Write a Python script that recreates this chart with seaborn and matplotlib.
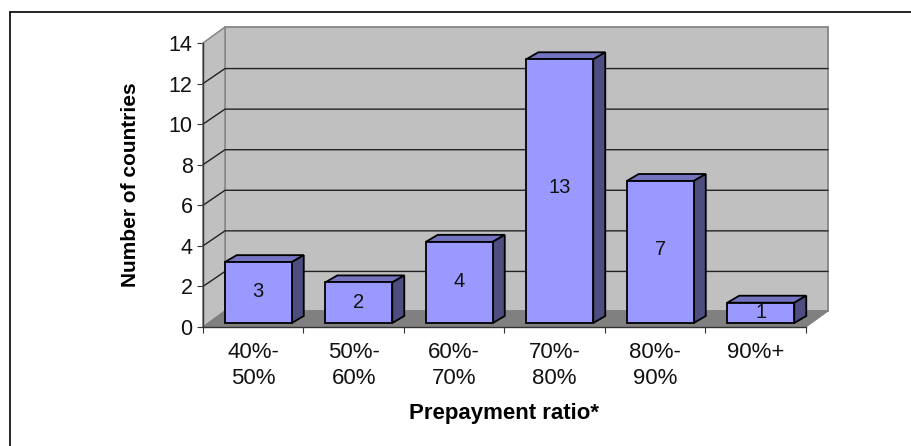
import matplotlib as mpl
import matplotlib.pyplot as plt
import pandas as pd
import seaborn as sns
from matplotlib.lines import Line2D
from matplotlib.patches import Polygon
mpl.use('Agg')

categories = ['40%-\n50%', '50%-\n60%', '60%-\n70%', '70%-\n80%', '80%-\n90%', '90%+']
countries = [3, 2, 4, 13, 7, 1]
y_ticks = [0, 2, 4, 6, 8, 10, 12, 14]

W, H = 912, 446
# front plane of the fake 3d box, in pixels
LEFT, RIGHT, TOP, BOTTOM = 203, 806, 43, 327

sns.set_theme(style='white')
plt.rcParams['font.family'] = ['Liberation Sans', 'DejaVu Sans']

fig = plt.figure(figsize=(W / 100, H / 100), dpi=100)
ax = fig.add_axes([LEFT / W, 1 - BOTTOM / H, (RIGHT - LEFT) / W, (BOTTOM - TOP) / H])
df = pd.DataFrame({'ratio': categories, 'n': countries})
sns.barplot(data=df, x='ratio', y='n', color='#9999FF', saturation=1, width=0.667,
            edgecolor='black', linewidth=1.3, ax=ax, zorder=5)
ax.set_xlim(-0.5, len(categories) - 0.5)
ax.set_ylim(0, 14)
ax.set_xlabel('')
ax.set_ylabel('')
ax.patch.set_alpha(0)

px = (RIGHT - LEFT) / len(categories)
py = (BOTTOM - TOP) / 14
wall_x, wall_y = 22 / px, 16 / py     # depth of the box
bar_x, bar_y = 12 / px, 7 / py        # depth of one bar
x0, x1 = ax.get_xlim()
bars = list(ax.patches)


def box(points, **kw):
    p = Polygon(points, closed=True, clip_on=False, **kw)
    ax.add_patch(p)


# walls and floor
box([(x0 + wall_x, wall_y), (x1 + wall_x, wall_y), (x1 + wall_x, 14 + wall_y), (x0 + wall_x, 14 + wall_y)],
    facecolor='#C0C0C0', edgecolor='#868686', linewidth=1.3, zorder=1)
box([(x0, 0), (x0 + wall_x, wall_y), (x0 + wall_x, 14 + wall_y), (x0, 14)],
    facecolor='#C0C0C0', edgecolor='#868686', linewidth=1.1, zorder=1)
box([(x0, 0), (x1, 0), (x1 + wall_x, wall_y), (x0 + wall_x, wall_y)],
    facecolor='#808080', edgecolor='#808080', linewidth=0.8, zorder=1.5)

# gridlines run along the side wall and the back wall
grid_y = 15 / py
for t in y_ticks[1:-1]:
    ax.plot([x0, x0 + wall_x, x1 + wall_x], [t, t + grid_y, t + grid_y], color='#222222',
            linewidth=1.0, clip_on=False, zorder=2)

# bars: move them back into the box and add top and side faces
for bar in bars:
    bar.set_x(bar.get_x() + 5 / px)
    bar.set_y(4 / py)
    bar.set_clip_on(False)
    l, r = bar.get_x(), bar.get_x() + bar.get_width()
    b, t = bar.get_y(), bar.get_y() + bar.get_height()
    box([(l, t), (r, t), (r + bar_x, t + bar_y), (l + bar_x, t + bar_y)],
        facecolor='#7373BF', edgecolor='black', linewidth=1.3, zorder=4)
    box([(r, b), (r + bar_x, b + bar_y), (r + bar_x, t + bar_y), (r, t)],
        facecolor='#4D4D80', edgecolor='black', linewidth=1.3, zorder=4)
    ax.text((l + r) / 2, b + (t - b) * 0.515, str(int(bar.get_height())), ha='center', va='center',
            fontsize=14.5, color='#111111', zorder=6)

sns.despine(ax=ax, top=True, right=True)
for side in ['left', 'bottom']:
    ax.spines[side].set_color('#333333')
    ax.spines[side].set_linewidth(1.0)
    ax.spines[side].set_zorder(3)

ax.set_yticks(y_ticks)
ax.set_xticks([i - 0.5 for i in range(len(categories) + 1)])
ax.set_xticklabels([])
ax.tick_params(axis='x', bottom=True, length=4.5, width=0.8, color='#333333')
ax.tick_params(axis='y', left=True, length=4.5, width=0.8, color='#333333', labelsize=15.5, pad=3, labelcolor='#111111')
for i, label in enumerate(categories):
    ax.annotate(label, (i, 0), xytext=(0, -15), xycoords=('data', 'axes fraction'), textcoords='offset pixels',
                ha='center', va='top', fontsize=16, linespacing=1.3, color='#111111')

fig.text(131 / W, 1 - 185 / H, 'Number of countries', rotation=90, ha='center', va='center',
         fontsize=15, fontweight='bold', color='black')
fig.text(504 / W, 1 - 414 / H, 'Prepayment ratio*', ha='center', va='center',
         fontsize=16, fontweight='bold', color='black')

# only the top and left edges of the frame are inside the picture
fig.add_artist(Line2D([10 / W, 1], [1 - 11.5 / H, 1 - 11.5 / H], transform=fig.transFigure, color='black', linewidth=1.2))
fig.add_artist(Line2D([10 / W, 10 / W], [0, 1 - 11.5 / H], transform=fig.transFigure, color='black', linewidth=1.2))

fig.savefig('out.png', dpi=100)
